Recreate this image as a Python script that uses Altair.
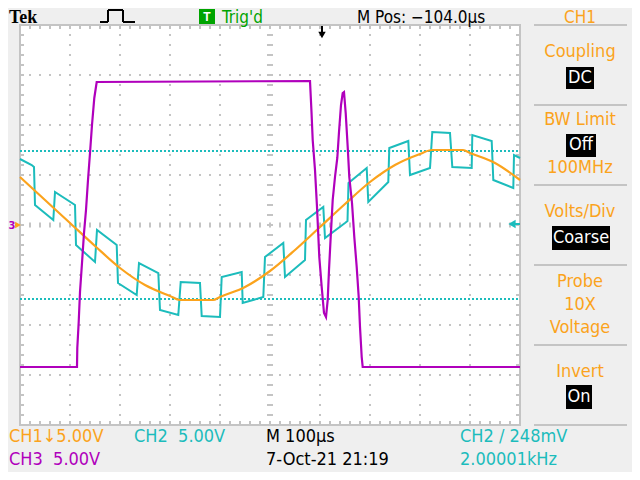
import altair as alt
import pandas as pd

# ---------------- data ----------------
# time in microseconds relative to the trigger point, amplitude in volts (5 V/div)
ch1_t = [-604, -554, -504, -454, -404, -354, -304, -284, -254, -218, -204, -154, -104,
         -54, -4, 46, 96, 146, 196, 220, 246, 282, 296, 346, 396]
ch1_v = [4.8, 2.5, 0.2, -2.1, -4.3, -6.0, -7.1, -7.5, -7.5, -7.5, -7.2, -6.2, -4.6,
         -2.5, -0.2, 2.1, 4.3, 6.0, 7.1, 7.5, 7.5, 7.5, 7.2, 6.2, 4.5]

ch2_t = [-604, -580.6, -576, -574, -537.4, -534, -494, -492, -454, -450, -410.6, -408,
         -370.6, -366, -327.4, -324, -287.4, -282.6, -244, -240.6, -204, -200.6, -160.6,
         -158.6, -117.4, -114, -77.4, -74, -34, -32, 2.6, 6, 46, 51, 53, 89.4, 92.6, 132.6,
         134.6, 172.6, 176, 216, 220.6, 256, 260.6, 299.4, 300.6, 339.4, 342.6, 382.6, 384, 396]
ch2_v = [6.6, 6.0, 5.8, 2.0, 0.5, 3.3, 2.0, -2.0, -3.7, -0.5, -2.0, -5.8,
         -7.0, -3.8, -4.8, -8.5, -9.0, -5.7, -5.8, -9.1, -9.2, -5.2, -4.7,
         -7.8, -7.2, -3.2, -1.8, -5.2, -3.5, 0.5, 1.8, -1.3, 0.2, 0.4, 4.2, 5.7, 2.3, 4.3,
         7.7, 8.4, 5.0, 5.7, 9.3, 9.2, 5.8, 5.7, 9.0, 8.4, 4.5, 3.7, 7.0, 6.7]

ch3_t = [-604, -490, -489.4, -486.6, -484, -480, -476, -472, -468, -464, -460, -455.4,
         -450.6, -24, -21, -18.6, -14, -10, -5.4, -0.6, 4, 8, 11.4, 14, 17.4, 21.4, 26,
         30.6, 34, 38, 41.4, 44, 47.4, 51.4, 54.6, 60, 64.6, 69.4, 73.4, 76, 79.4, 81.4, 396]
ch3_v = [-14.2, -14.2, -12.3, -9.7, -6.7, -3.8, -0.8, 1.5, 4.5, 7.2, 10.0, 12.7,
         14.3, 14.4, 11.3, 8.5, 5.5, 1.8, -3.2, -6.2, -8.8, -9.2, -7.5, -4.5, -1.2, 2.5, 4.8,
         6.7, 9.3, 12.0, 13.2, 13.3, 11.2, 7.8, 4.8, 2.2, -1.2, -4.2, -7.2, -10.2, -13.2, -14.2, -14.2]

cursor_v = [7.4, -7.4]

grid_t = [-504, -404, -304, -204, -4, 96, 196, 296]
grid_v = [-15, -10, -5, 5, 10, 15]
center_t = [-104]
center_v = [0]

# ---------------- styling ----------------
T0, T1 = -604, 396
V0, V1 = -20, 20
W, H = 500, 400
BG = "#efefef"
GRID = "#c4c4c4"
ORANGE = "#fba31c"
CYAN = "#1cbcbc"
MAGENTA = "#b000bc"
GREEN = "#00a400"
FONT = "Liberation Sans Narrow, DejaVu Sans Condensed, Roboto Condensed, Arial Narrow, sans-serif"
OX, OY = 20, 25  # page position of the plot origin
NB = "\u00a0"

xscale = alt.Scale(domain=[T0, T1], nice=False, zero=False)
yscale = alt.Scale(domain=[V0, V1], nice=False, zero=False)


def X(f):
    return alt.X(f, type="quantitative", scale=xscale, axis=None)


def Y(f):
    return alt.Y(f, type="quantitative", scale=yscale, axis=None)


one = pd.DataFrame({"a": [0]})
layers = []

# graticule dots
vg = pd.DataFrame({"t": grid_t, "top": [V1] * len(grid_t), "bot": [V0] * len(grid_t)})
layers.append(alt.Chart(vg).mark_rule(color=GRID, strokeWidth=2, strokeDash=[2, 8], strokeDashOffset=1)
              .encode(x=X("t"), y=Y("top"), y2=alt.Y2("bot")))
hg = pd.DataFrame({"v": grid_v, "l": [T0] * len(grid_v), "r": [T1] * len(grid_v)})
layers.append(alt.Chart(hg).mark_rule(color=GRID, strokeWidth=2, strokeDash=[2, 8], strokeDashOffset=1)
              .encode(x=X("l"), x2=alt.X2("r"), y=Y("v")))
# centre lines with ticks
ch = pd.DataFrame({"v": center_v, "l": [T0], "r": [T1]})
layers.append(alt.Chart(ch).mark_rule(color=GRID, strokeWidth=5, strokeDash=[2, 8], strokeDashOffset=1)
              .encode(x=X("l"), x2=alt.X2("r"), y=Y("v")))
cv = pd.DataFrame({"t": center_t, "top": [V1], "bot": [V0]})
layers.append(alt.Chart(cv).mark_rule(color=GRID, strokeWidth=6, strokeDash=[2, 8], strokeDashOffset=1)
              .encode(x=X("t"), y=Y("top"), y2=alt.Y2("bot")))
# border ticks
bt = pd.DataFrame({"v": [V1 - 0.2, V0 + 0.2], "l": [T0, T0], "r": [T1, T1]})
layers.append(alt.Chart(bt).mark_rule(color=GRID, strokeWidth=4, strokeDash=[2, 8], strokeDashOffset=1)
              .encode(x=X("l"), x2=alt.X2("r"), y=Y("v")))
bl = pd.DataFrame({"t": [T0 + 4, T1 - 4], "top": [V1, V1], "bot": [V0, V0]})
layers.append(alt.Chart(bl).mark_rule(color=GRID, strokeWidth=4, strokeDash=[2, 8], strokeDashOffset=1)
              .encode(x=X("t"), y=Y("top"), y2=alt.Y2("bot")))

# cursors
cu = pd.DataFrame({"v": cursor_v, "l": [T0] * 2, "r": [T1] * 2})
layers.append(alt.Chart(cu).mark_rule(color=CYAN, strokeWidth=2, strokeDash=[2, 2])
              .encode(x=X("l"), x2=alt.X2("r"), y=Y("v")))

# traces
d2 = pd.DataFrame({"t": ch2_t, "v": ch2_v, "i": range(len(ch2_t))})
layers.append(alt.Chart(d2).mark_line(color=CYAN, strokeWidth=2)
              .encode(x=X("t"), y=Y("v"), order="i:Q"))
d1 = pd.DataFrame({"t": ch1_t, "v": ch1_v, "i": range(len(ch1_t))})
layers.append(alt.Chart(d1).mark_line(color=ORANGE, strokeWidth=2.2, interpolate="monotone")
              .encode(x=X("t"), y=Y("v"), order="i:Q"))
d3 = pd.DataFrame({"t": ch3_t, "v": ch3_v, "i": range(len(ch3_t))})
layers.append(alt.Chart(d3).mark_line(color=MAGENTA, strokeWidth=2.2)
              .encode(x=X("t"), y=Y("v"), order="i:Q"))


# ---------------- annotations (page coordinates) ----------------
def txt(s, x, y, color, size=18, align="left", font=FONT, weight="normal"):
    return alt.Chart(one).mark_text(text=s, align=align, baseline="middle", color=color,
                                    fontSize=size, font=font, fontWeight=weight).encode(
        x=alt.value(x - OX), y=alt.value(y - OY))


def box(x1, y1, x2, y2, color="black"):
    return alt.Chart(one).mark_rect(color=color).encode(
        x=alt.value(x1 - OX), x2=alt.value(x2 - OX), y=alt.value(y1 - OY), y2=alt.value(y2 - OY))


def seg(x1, y1, x2, y2, color="black", w=2):
    return alt.Chart(one).mark_rule(color=color, strokeWidth=w).encode(
        x=alt.value(x1 - OX), x2=alt.value(x2 - OX), y=alt.value(y1 - OY), y2=alt.value(y2 - OY))


def tri(shape, x, y, color, size=40):
    return alt.Chart(one).mark_point(shape=shape, filled=True, opacity=1, color=color, size=size).encode(
        x=alt.value(x - OX), y=alt.value(y - OY))


# top bar
layers.append(txt("Tek", 9, 17.5, "black", 18, font="Liberation Serif", weight="bold"))
for a in [(100, 22, 108, 22), (108, 22, 108, 10), (108, 10, 123, 10), (123, 10, 123, 22), (123, 22, 135, 22)]:
    layers.append(seg(*a))
layers.append(box(199, 9, 215, 24, GREEN))
layers.append(txt("T", 207, 17, "white", 12, align="center", font="Liberation Sans", weight="bold"))
layers.append(txt("Trig'd", 222, 17.5, GREEN, 17))
layers.append(txt("M Pos: \u2212104.0\u00b5s", 357, 17.5, "black", 17))
layers.append(txt("CH1", 580, 17.5, ORANGE, 17, align="center"))
# trigger position marker
layers.append(seg(322, 26, 322, 33, "black", 2))
layers.append(tri("triangle-down", 322, 35, "black", 55))
# left/right level markers
layers.append(txt("3", 12, 226, MAGENTA, 11, align="center", weight="bold"))
layers.append(seg(15, 225, 19, 225, ORANGE, 2))
layers.append(tri("triangle-right", 18, 225, ORANGE, 45))
layers.append(seg(513, 224, 520, 224, CYAN, 2))
layers.append(tri("triangle-left", 512, 224, CYAN, 70))

# right menu panel
for yy in [25, 105, 185, 265, 345, 425]:
    layers.append(seg(534, yy, 627, yy, GRID, 2))
layers.append(txt("Coupling", 580, 52, ORANGE, align="center"))
layers.append(box(566, 67, 594, 89))
layers.append(txt("DC", 580, 78, "white", align="center"))
layers.append(txt("BW Limit", 580, 120, ORANGE, align="center"))
layers.append(box(566, 134, 596, 157))
layers.append(txt("Off", 581, 145, "white", align="center"))
layers.append(txt("100MHz", 580, 168, ORANGE, align="center"))
layers.append(txt("Volts/Div", 580, 212, ORANGE, align="center"))
layers.append(box(552, 226, 610, 250))
layers.append(txt("Coarse", 581, 238, "white", align="center"))
layers.append(txt("Probe", 580, 282, ORANGE, align="center"))
layers.append(txt("10X", 580, 305, ORANGE, align="center"))
layers.append(txt("Voltage", 580, 328, ORANGE, align="center"))
layers.append(txt("Invert", 580, 372, ORANGE, align="center"))
layers.append(box(566, 385, 592, 409))
layers.append(txt("On", 579, 397, "white", align="center"))

# bottom status lines
layers.append(txt("CH1\u21935.00V", 9, 437, ORANGE))
layers.append(txt("CH2" + NB + NB + "5.00V", 134, 437, CYAN))
layers.append(txt("M 100\u00b5s", 266, 437, "black"))
layers.append(txt("CH2 / 248mV", 460, 437, CYAN))
layers.append(txt("CH3" + NB + NB + "5.00V", 9, 460, MAGENTA))
layers.append(txt("7-Oct-21 21:19", 266, 460, "black"))
layers.append(txt("2.00001kHz", 460, 460, CYAN))

chart = alt.layer(*layers).properties(
    width=W, height=H,
    padding={"left": 12, "top": 17, "right": 112, "bottom": 47},
    autosize="none",
    background=BG,
).configure_view(fill="white", stroke=GRID, strokeWidth=2)

chart.save("out.html", embed_options={"renderer": "svg", "actions": False})
